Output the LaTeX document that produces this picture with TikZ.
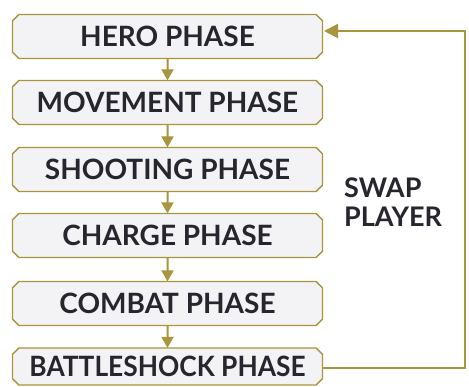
\documentclass[tikz,border=0pt]{standalone}
\usepackage{fontspec}
\setmainfont{Lato}
\usetikzlibrary{arrows.meta,shapes.misc}
\definecolor{gold}{HTML}{A8953C}
\definecolor{ink}{HTML}{26262F}
\definecolor{boxfill}{HTML}{F3F3F5}
\tikzset{
  phase/.style={draw=gold, line width=1.3pt, fill=boxfill, chamfered rectangle, chamfered rectangle xsep=3pt,
    minimum width=310pt, minimum height=44pt, inner sep=0pt, text=ink,
    font=\fontsize{28}{30}\selectfont\bfseries},
  flow/.style={draw=gold, line width=2pt, -{Triangle[width=12pt,length=11pt]}, shorten >=-0.5pt},
}
\begin{document}
\begin{tikzpicture}[x=1pt,y=-1pt]
\useasboundingbox (0,0) rectangle (469,387);
\fill[white] (0,0) rectangle (469,387);
\node[phase] (hero) at (167.5,36.5) {HERO PHASE};
\node[phase] (move) at (167.5,102.5) {MOVEMENT PHASE};
\node[phase] (shoot) at (167.5,169.5) {SHOOTING PHASE};
\node[phase] (charge) at (167.5,235.5) {CHARGE PHASE};
\node[phase] (combat) at (167.5,303.5) {COMBAT PHASE};
\node[phase, minimum height=37pt] (battle) at (167.5,366.5) {\scalebox{0.94}[1]{BATTLESHOCK PHASE}};
\draw[flow] (hero) -- (move);
\draw[flow] (move) -- (shoot);
\draw[flow] (shoot) -- (charge);
\draw[flow] (charge) -- (combat);
\draw[flow] (combat) -- (battle);
\coordinate (c1) at (465,368);
\coordinate (c2) at (465,31);
\coordinate (tip) at (324,31);
\draw[draw=gold, line width=2pt, -{Triangle[width=14pt,length=14pt]}] (battle.east |- c1) -- (c1) -- (c2) -- (tip);
\node[anchor=north west, align=left, text=ink, font=\fontsize{27}{29}\selectfont\bfseries, inner sep=0pt] (swap) at (344,178) {SWAP\\PLAYER};
\end{tikzpicture}
\end{document}
